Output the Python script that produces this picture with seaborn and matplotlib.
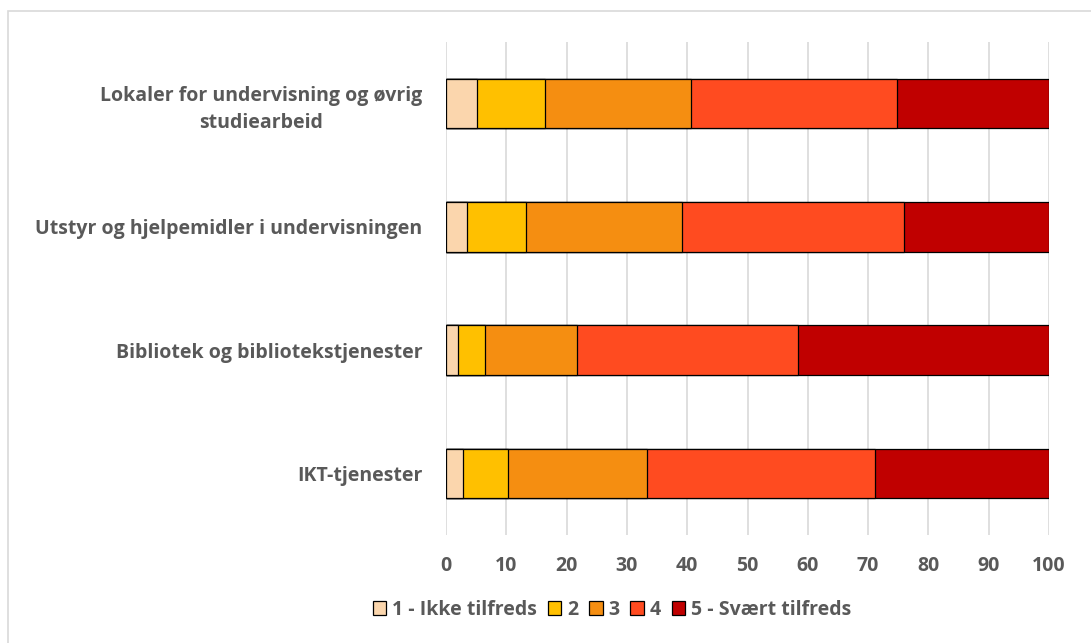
import numpy as np
import pandas as pd
import matplotlib
matplotlib.use("Agg")
import matplotlib.pyplot as plt
from matplotlib.patches import Patch, Rectangle
import seaborn as sns

# %% data (percent per answer level)
categories = ["Lokaler for undervisning og øvrig\nstudiearbeid",
              "Utstyr og hjelpemidler i undervisningen",
              "Bibliotek og bibliotekstjenester",
              "IKT-tjenester"]
levels = ["1 - Ikke tilfreds", "2", "3", "4", "5 - Svært tilfreds"]
lvl1 = [5.1, 3.4, 2.0, 2.8]
lvl2 = [11.4, 9.8, 4.4, 7.5]
lvl3 = [24.1, 25.9, 15.3, 23.1]
lvl4 = [34.2, 36.8, 36.6, 37.8]
lvl5 = [25.2, 24.1, 41.7, 28.8]
colors = ["#FBD6AD", "#FFC000", "#F58E11", "#FF4B20", "#C00000"]

df = pd.DataFrame({"kategori": categories, levels[0]: lvl1, levels[1]: lvl2,
                   levels[2]: lvl3, levels[3]: lvl4, levels[4]: lvl5})
cum = df[levels].cumsum(axis=1)

sns.set_style("white")
plt.rcParams['font.family'] = ['Open Sans', 'DejaVu Sans']
txt = "#595959"
fs = 14

fig = plt.figure(figsize=(10.91, 6.43), dpi=100)
ax = fig.add_axes([446/1091, 1-535/643, (1049-446)/1091, (535-42)/643])

# stacked bars: draw the cumulative totals from the top level down
for lev, col in zip(levels[::-1], colors[::-1]):
    sns.barplot(x=cum[lev], y=df.kategori, orient="h", color=col, saturation=1,
                width=0.4, edgecolor="black", linewidth=0.9, ax=ax, zorder=3)

ax.set_xlim(0, 100)
ax.set_xticks(np.arange(0, 101, 10))
ax.grid(axis="x", color="#D9D9D9", linewidth=1.2, zorder=0)
ax.set_axisbelow(True)
for s in ax.spines.values():
    s.set_visible(False)
ax.set_xlabel("")
ax.set_ylabel("")
ax.tick_params(axis="x", length=0, pad=15, labelsize=fs, labelcolor=txt)
ax.tick_params(axis="y", length=0, pad=17, labelsize=fs, labelcolor=txt)
for lab in ax.get_xticklabels() + ax.get_yticklabels():
    lab.set_fontweight("bold")
for lab in ax.get_yticklabels():
    lab.set_multialignment("center")
    lab.set_linespacing(1.45)

handles = [Patch(facecolor=c, edgecolor="black", linewidth=0.9) for c in colors]
fig.legend(handles, levels, loc="center", bbox_to_anchor=(612/1091, 1-610/643),
           ncol=5, frameon=False, handlelength=0.7, handleheight=0.7,
           handletextpad=0.3, columnspacing=0.55,
           prop={"weight": "bold", "size": fs}, labelcolor=txt)

fig.patches.append(Rectangle((8/1091, -0.1), 1.2, 0.1 + (643-11)/643, transform=fig.transFigure,
                             fill=False, edgecolor="#D9D9D9", linewidth=1.2))

fig.savefig("out.png", dpi=100)
